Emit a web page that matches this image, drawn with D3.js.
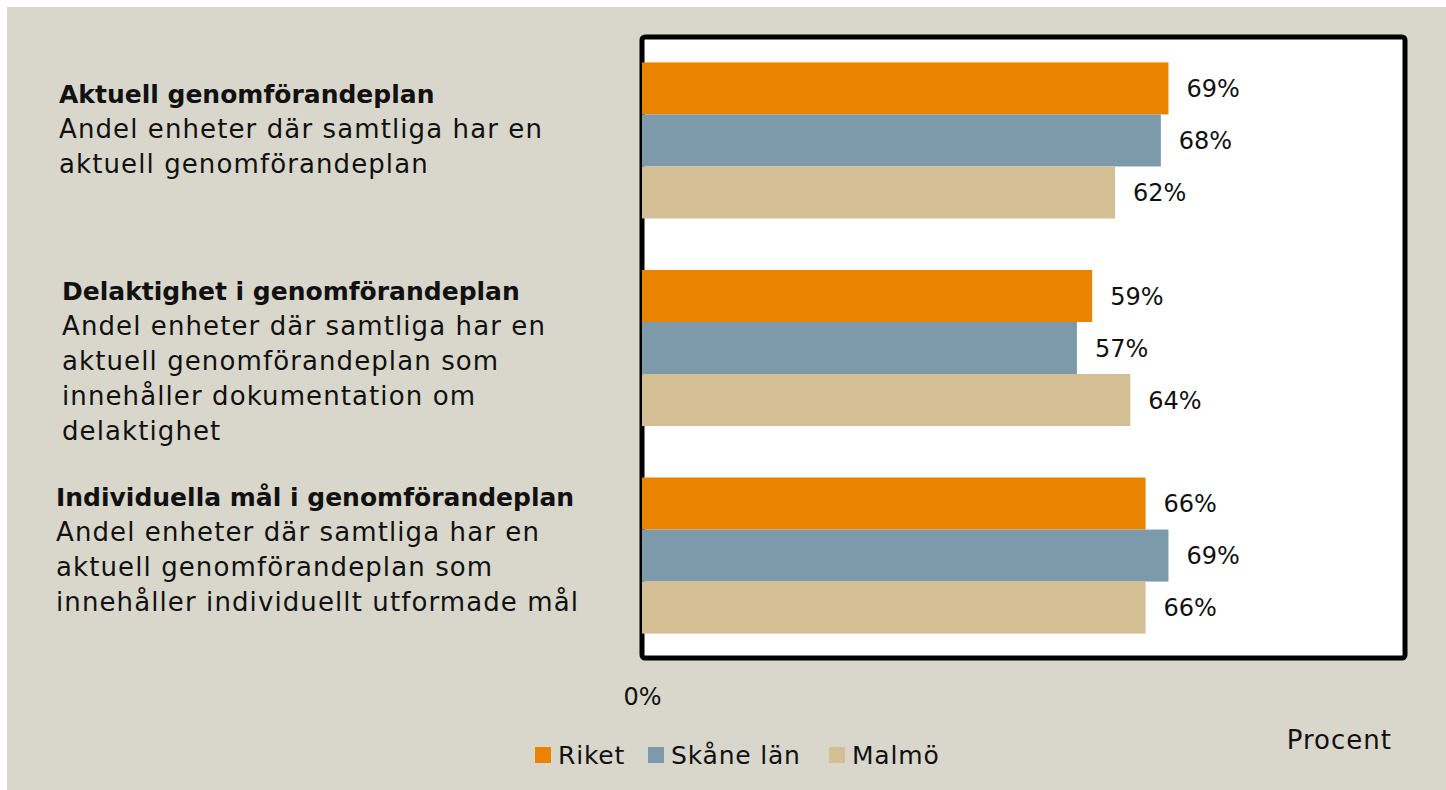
<!DOCTYPE html>
<html>
<head>
<meta charset="utf-8">
<script src="https://cdn.jsdelivr.net/npm/d3@7"></script>
<style>
  body { margin: 0; background: #fff; }
  text { font-family: "DejaVu Sans", sans-serif; fill: #111; }
</style>
</head>
<body>
<div id="chart"></div>
<script>
// data
var categories = ["Aktuell genomförandeplan", "Delaktighet i genomförandeplan", "Individuella mål i genomförandeplan"];
var descriptions = [
  ["Andel enheter där samtliga har en", "aktuell genomförandeplan"],
  ["Andel enheter där samtliga har en", "aktuell genomförandeplan som", "innehåller dokumentation om", "delaktighet"],
  ["Andel enheter där samtliga har en", "aktuell genomförandeplan som", "innehåller individuellt utformade mål"]
];
var seriesNames = ["Riket", "Skåne län", "Malmö"];
var riket = [69, 59, 66];
var skane = [68, 57, 69];
var malmo = [62, 64, 66];
var xTicks = [0];

var seriesValues = [riket, skane, malmo];
var colors = ["#ea8400", "#7d9aab", "#d4bf95"];

var svgWidth = 1446;
var svgHeight = 790;

var svg = d3.select("#chart")
  .append("svg")
  .attr("width", svgWidth)
  .attr("height", svgHeight);

// beige slide background
svg.append("rect")
  .attr("x", 7).attr("y", 7)
  .attr("width", svgWidth - 7).attr("height", svgHeight - 7)
  .attr("fill", "#d9d7cb");

var plot = { left: 642, right: 1405, top: 37, bottom: 658 };

var x = d3.scaleLinear()
  .domain([0, 100])
  .range([plot.left, plot.right]);

var y = d3.scaleBand()
  .domain(d3.range(categories.length))
  .range([40, 656])
  .paddingInner(0.248)
  .paddingOuter(0.108);

var ySub = d3.scaleBand()
  .domain(d3.range(seriesNames.length))
  .range([0, y.bandwidth()]);

// plot frame
svg.append("rect")
  .attr("x", plot.left)
  .attr("y", plot.top)
  .attr("width", plot.right - plot.left)
  .attr("height", plot.bottom - plot.top)
  .attr("rx", 3)
  .attr("fill", "#fff")
  .attr("stroke", "#000")
  .attr("stroke-width", 5);

// flatten into bar rows
var rows = [];
categories.forEach(function(c, i) {
  seriesValues.forEach(function(vals, s) {
    rows.push({ cat: i, s: s, value: vals[i] });
  });
});

svg.selectAll(".bar")
  .data(rows)
  .enter()
  .append("rect")
  .attr("class", "bar")
  .attr("x", x(0))
  .attr("y", d => y(d.cat) + ySub(d.s))
  .attr("width", d => x(d.value) - x(0))
  .attr("height", ySub.bandwidth())
  .attr("fill", d => colors[d.s]);

svg.selectAll(".lbl")
  .data(rows)
  .enter()
  .append("text")
  .attr("class", "lbl")
  .attr("x", d => x(d.value) + 18)
  .attr("y", d => y(d.cat) + ySub(d.s) + ySub.bandwidth() / 2)
  .attr("dy", "0.36em")
  .attr("font-size", 24)
  .text(d => d.value + "%");

// x axis (only 0%)
var bottomAxis = d3.axisBottom(x)
  .tickValues(xTicks)
  .tickSize(0)
  .tickPadding(0)
  .tickFormat(d => d + "%");

var axisG = svg.append("g")
  .attr("transform", "translate(0, 688)")
  .call(bottomAxis);
axisG.select(".domain").remove();
axisG.selectAll("text")
  .attr("font-size", 24)
  .attr("font-family", "DejaVu Sans")
  .attr("fill", "#111");

// category texts on the left
var textLeft = [59, 62, 56];
var titleBase = [103, 300, 506];
var lineH = 35;

categories.forEach(function(c, i) {
  var t = svg.append("text")
    .attr("x", textLeft[i])
    .attr("y", titleBase[i])
    .attr("font-size", 26);
  t.append("tspan")
    .attr("font-weight", "bold")
    .attr("font-size", 25)
    .text(c);
  descriptions[i].forEach(function(line, k) {
    t.append("tspan")
      .attr("x", textLeft[i])
      .attr("y", titleBase[i] + lineH * (k + 1))
      .attr("letter-spacing", 1.1)
      .text(line);
  });
});

// legend
var legendX = [535, 648, 829];
var legend = svg.selectAll(".leg")
  .data(seriesNames)
  .enter()
  .append("g")
  .attr("class", "leg")
  .attr("transform", (d, i) => `translate(${legendX[i]}, 747)`);

legend.append("rect")
  .attr("width", 16)
  .attr("height", 16)
  .attr("fill", (d, i) => colors[i]);

legend.append("text")
  .attr("x", 23)
  .attr("y", 17)
  .attr("font-size", 25)
  .attr("letter-spacing", 0.8)
  .text(d => d);

svg.append("text")
  .attr("x", 1392)
  .attr("y", 749)
  .attr("text-anchor", "end")
  .attr("font-size", 26)
  .attr("letter-spacing", 1)
  .text("Procent");
</script>
</body>
</html>
